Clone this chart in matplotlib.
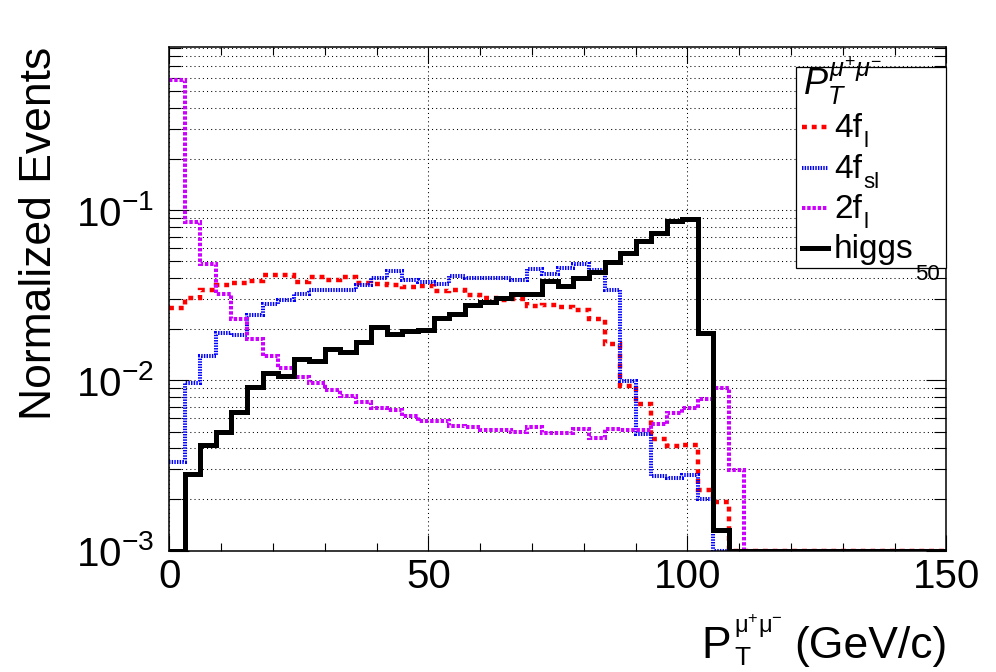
import numpy as np
import matplotlib
matplotlib.use("Agg")
import matplotlib.pyplot as plt
from matplotlib.ticker import MultipleLocator, LogLocator, NullFormatter
from matplotlib.patches import Rectangle
from matplotlib.lines import Line2D

plt.rcParams['font.family'] = ['Liberation Sans', 'DejaVu Sans']
plt.rcParams['mathtext.fontset'] = 'custom'
plt.rcParams['mathtext.rm'] = 'Liberation Sans'
plt.rcParams['mathtext.it'] = 'Liberation Sans:italic'
plt.rcParams['mathtext.bf'] = 'Liberation Sans:bold'

# P_T(mu+ mu-) histograms, 50 bins of 3 GeV/c, normalized
edges = np.arange(0, 151, 3)

h_4fl = [0.0268, 0.0307, 0.0342, 0.0363, 0.0373, 0.0384, 0.0419, 0.0415, 0.0380, 0.0403,
         0.0388, 0.0406, 0.0374, 0.0371, 0.0366, 0.0355, 0.0358, 0.0334, 0.0342, 0.0317,
         0.0307, 0.0296, 0.0300, 0.0273, 0.0276, 0.0271, 0.0259, 0.0231, 0.0163, 0.0093,
         0.0073, 0.0045, 0.0041, 0.0042, 0.00227, 0.00192] + [0] * 14
h_4fsl = [0.00333, 0.00968, 0.0139, 0.0190, 0.0185, 0.0242, 0.0283, 0.0296, 0.0320, 0.0342,
          0.0339, 0.0342, 0.0363, 0.0397, 0.0438, 0.0388, 0.0380, 0.0371, 0.0409, 0.0397,
          0.0397, 0.0397, 0.0388, 0.0449, 0.0421, 0.0455, 0.0482, 0.0444, 0.0342, 0.0099,
          0.00483, 0.00274, 0.00266, 0.00280, 0.0020] + [0] * 15
h_2fl = [0.585, 0.0854, 0.0482, 0.0324, 0.0231, 0.0175, 0.0139, 0.0119, 0.0105, 0.0096,
         0.00877, 0.00809, 0.00749, 0.00693, 0.00669, 0.00619, 0.00579, 0.00579, 0.00541, 0.00534,
         0.00511, 0.00511, 0.00495, 0.00530, 0.00489, 0.00489, 0.00522, 0.00462, 0.00516, 0.00515,
         0.0051, 0.00553, 0.0064, 0.00685, 0.00783, 0.00897, 0.00297] + [0] * 13
h_higgs = [0, 0.00284, 0.00417, 0.00495, 0.00649, 0.00918, 0.0111, 0.0106, 0.0133, 0.0130,
           0.0153, 0.0146, 0.0169, 0.0207, 0.0187, 0.0195, 0.0197, 0.0232, 0.0244, 0.0277,
           0.0290, 0.0307, 0.0324, 0.0320, 0.0383, 0.0361, 0.0397, 0.0434, 0.0493, 0.0557,
           0.0655, 0.0739, 0.0865, 0.0893, 0.0190, 0.00133] + [0] * 14

# legend names split into main text and subscript
names = ['4f', '4f', '2f', 'higgs']
subs = ['l', 'sl', 'l', '50']

ymin, ymax = 1e-3, 0.91

fig = plt.figure(figsize=(9.96, 6.72), dpi=100)
ax = fig.add_axes([0.1700, 0.1805, 0.7803, 0.7497])
ax.set_yscale('log')

styles = [
    dict(color='#ff0000', lw=3.2, linestyle=(0, (1.1, 1.1))),
    dict(color='#0000ff', lw=2.9, linestyle=(0, (0.36, 0.3))),
    dict(color='#cc00ff', lw=2.9, linestyle=(0, (0.85, 0.45))),
    dict(color='black', lw=3.6, linestyle='-'),
]

for h, st in zip([h_4fl, h_4fsl, h_2fl, h_higgs], styles):
    vals = np.clip(np.array(h, dtype=float), ymin, None)  # empty bins sit on the axis floor
    ax.stairs(vals, edges, baseline=None, **st)

ax.set_xlim(0, 150)
ax.set_ylim(ymin, ymax)

ax.xaxis.set_major_locator(MultipleLocator(50))
ax.xaxis.set_minor_locator(MultipleLocator(10))
ax.yaxis.set_major_locator(LogLocator(base=10, numticks=10))
ax.yaxis.set_minor_locator(LogLocator(base=10, subs=np.arange(2, 10), numticks=20))
ax.yaxis.set_minor_formatter(NullFormatter())

grid_ls = (0, (1, 3))
ax.grid(True, which='both', axis='y', color='black', lw=0.75, linestyle=grid_ls)
ax.grid(True, which='major', axis='x', color='black', lw=0.75, linestyle=grid_ls)
ax.set_axisbelow(True)

ax.tick_params(which='both', direction='in', top=True, right=True, width=0.8, labelsize=29)
ax.tick_params(axis='x', which='major', length=11.5, pad=5)
ax.tick_params(axis='x', which='minor', length=5.5)
ax.tick_params(axis='y', which='major', length=14.5, pad=11)
ax.tick_params(axis='y', which='minor', length=8.5)
for s in ax.spines.values():
    s.set_linewidth(1.1)

# x title, ROOT-like pieces
H = 672
fig.text(947 / 996, 1 - 658 / H, '(GeV/c)', fontsize=32, ha='right', va='baseline')
fig.text(731 / 996, 1 - 658 / H, 'P', fontsize=32, ha='right', va='baseline')
fig.text(734 / 996, 1 - 665 / H, 'T', fontsize=19, ha='left', va='baseline')
fig.text(734 / 996, 1 - 633 / H, r'μ$^{+}$μ$^{-}$', fontsize=17, ha='left', va='baseline')

fig.text(51 / 996, 1 - 47 / H, 'Normalized Events', fontsize=32, rotation=90,
         rotation_mode='anchor', ha='right', va='baseline')

# legend box drawn by hand, ROOT style
tr = ax.transAxes
def ax_x(px):
    return (px - 170) / 776.5
def ax_y(py):
    return (550.7 - py) / 503.7

ax.add_patch(Rectangle((ax_x(796), ax_y(268)), 1 - ax_x(796), ax_y(67) - ax_y(268),
                       transform=tr, facecolor='white', edgecolor='black', lw=0.9,
                       zorder=5, clip_on=False))
ax.text(ax_x(803), ax_y(95), r'$P_{T}^{μ^{+}μ^{-}}$', transform=tr, fontsize=26,
        ha='left', va='baseline', zorder=6)
entry_y = [127, 168, 208, 248]
sub_dy = [-2.5, -2.5, -2.5, -10.5]
for name, sub, st, py, dy in zip(names, subs, styles, entry_y, sub_dy):
    ax.add_line(Line2D([ax_x(802), ax_x(828)], [ax_y(py), ax_y(py)], transform=tr,
                       zorder=6, clip_on=False, **st))
    t = ax.text(ax_x(834), ax_y(py + 10), name, transform=tr, fontsize=24,
                ha='left', va='baseline', zorder=6)
    ax.annotate(sub, xy=(1, 0), xycoords=t, xytext=(1, dy), textcoords='offset points',
                fontsize=16, ha='left', va='baseline', zorder=6, annotation_clip=False)

fig.savefig('out.png', dpi=100)
